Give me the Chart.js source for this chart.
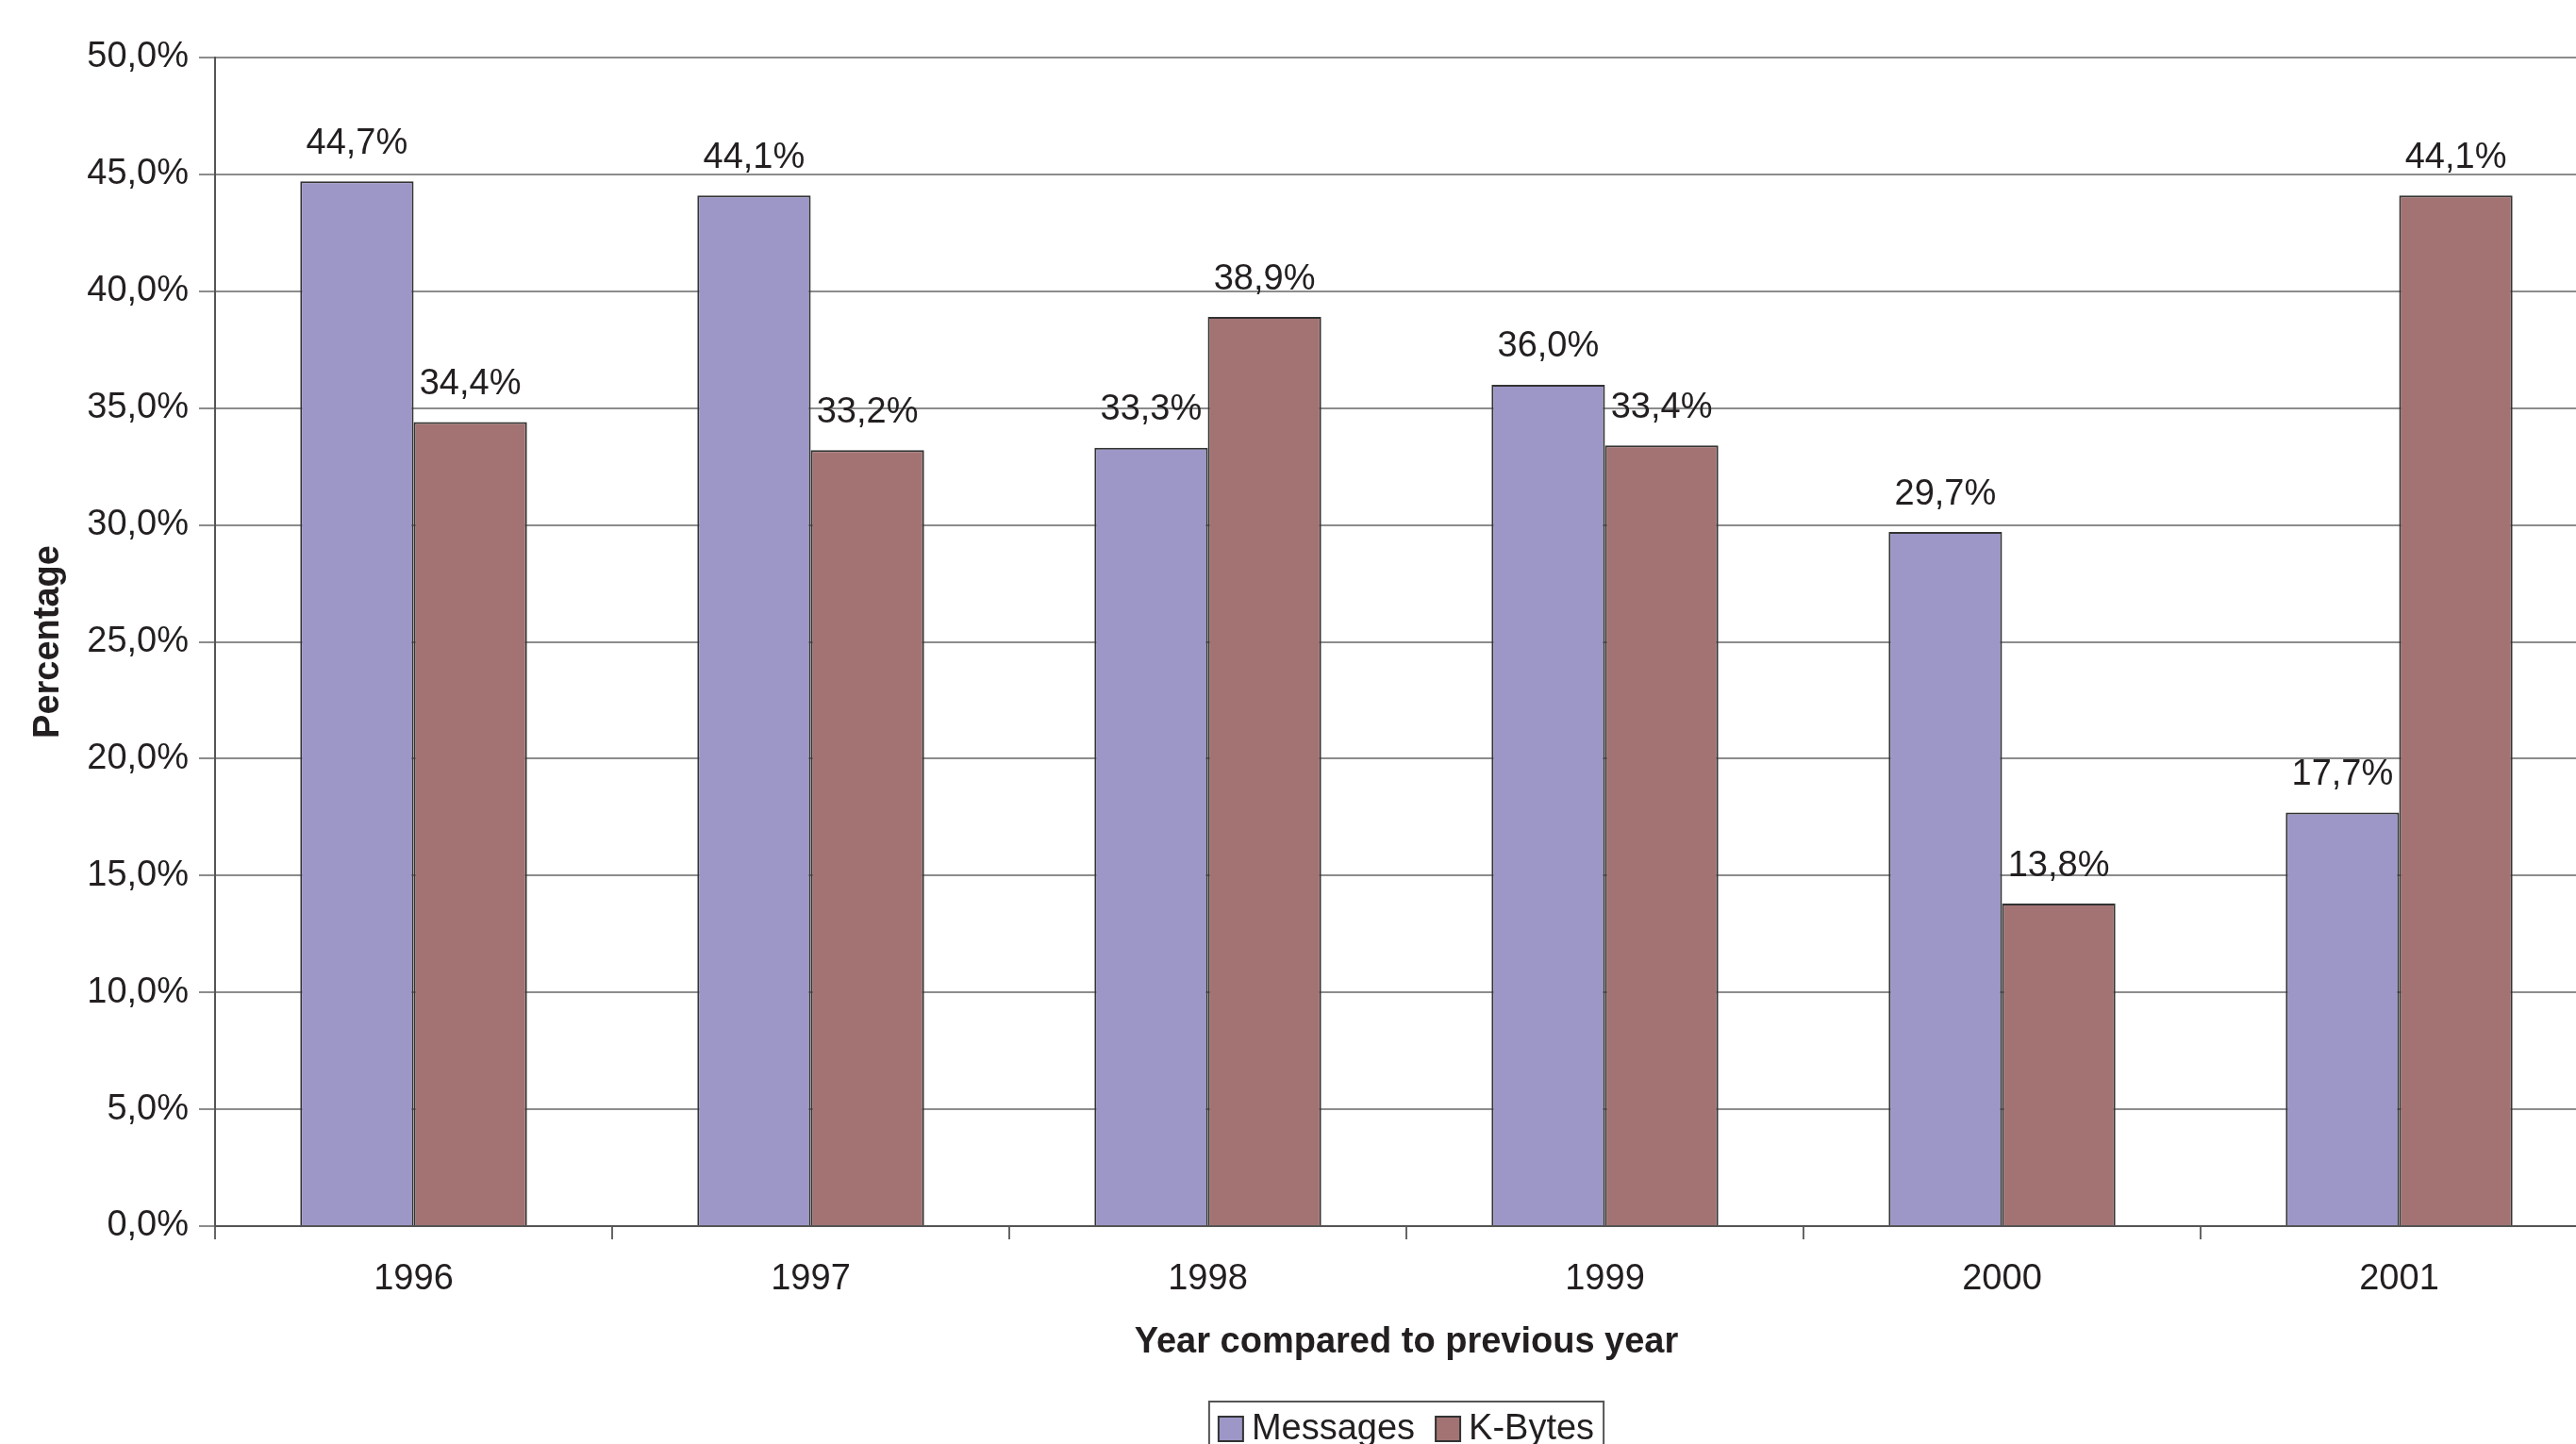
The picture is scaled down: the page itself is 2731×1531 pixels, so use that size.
<!DOCTYPE html>
<html>
<head>
<meta charset="utf-8">
<script src="https://cdn.jsdelivr.net/npm/chart.js@4/dist/chart.umd.min.js"></script>
<style>
	html, body { margin: 0; padding: 0; background: #ffffff; overflow: hidden; }
	canvas { display: block; }
</style>
</head>
<body>
<canvas id="barChartGrowth" width="2754" height="1560"></canvas>
<script>
	// yearly growth compared to the previous year, in percent
	var years = ['1996', '1997', '1998', '1999', '2000', '2001'];
	var messagesValues = [44.7, 44.1, 33.3, 36.0, 29.7, 17.7];
	var kbytesValues = [34.4, 33.2, 38.9, 33.4, 13.8, 44.1];
	var seriesLabels = ['Messages', 'K-Bytes'];
	var chartColors = ['#9d97c8', '#a37373'];

	var textColor = '#231f20';
	var fontFamily = '"Liberation Sans", Arial, Helvetica, sans-serif';

	/**
	 * Percentage with a decimal comma -> e.g. '44,7%'
	 */
	function formattedPercent(value) {
		return Number(value).toFixed(1).replace('.', ',') + '%';
	}

	// writes the value above every bar
	var valueLabels = {
		id: 'valueLabels',
		afterDatasetsDraw: function (chart) {
			var ctx = chart.ctx;
			ctx.save();
			ctx.font = '38px ' + fontFamily;
			ctx.fillStyle = textColor;
			ctx.textAlign = 'center';
			ctx.textBaseline = 'middle';
			chart.data.datasets.forEach(function (dataset, i) {
				chart.getDatasetMeta(i).data.forEach(function (bar, index) {
					ctx.fillText(formattedPercent(dataset.data[index]), bar.x, bar.y - 40);
				});
			});
			ctx.restore();
		}
	};

	// boxed legend centred under the plot area
	var boxedLegend = {
		id: 'boxedLegend',
		afterDraw: function (chart) {
			var ctx = chart.ctx;
			var area = chart.chartArea;
			var box = 26, gap = 9, itemGap = 22, pad = 10, height = 58;
			ctx.save();
			ctx.font = '38px ' + fontFamily;
			var widths = chart.data.datasets.map(function (d) {
				return box + gap + ctx.measureText(d.label).width;
			});
			var total = pad * 2 + itemGap * (widths.length - 1);
			widths.forEach(function (w) { total += w; });
			var left = (area.left + area.right) / 2 - total / 2;
			var top = area.bottom + 186;

			ctx.fillStyle = '#ffffff';
			ctx.fillRect(left, top, total, height);
			ctx.strokeStyle = '#555555';
			ctx.lineWidth = 2;
			ctx.strokeRect(left, top, total, height);

			var x = left + pad;
			var midY = top + height / 2;
			chart.data.datasets.forEach(function (d, i) {
				ctx.fillStyle = d.backgroundColor;
				ctx.fillRect(x, midY - box / 2, box, box);
				ctx.strokeStyle = '#333333';
				ctx.strokeRect(x, midY - box / 2, box, box);
				ctx.fillStyle = textColor;
				ctx.textAlign = 'left';
				ctx.textBaseline = 'middle';
				ctx.fillText(d.label, x + box + gap, midY + 1);
				x += widths[i] + itemGap;
			});
			ctx.restore();
		}
	};

	var barChartData = {
		labels: years,
		datasets: [{
			label: seriesLabels[0],
			data: messagesValues,
			backgroundColor: chartColors[0],
			borderColor: '#333333',
			borderWidth: 2,
		}, {
			label: seriesLabels[1],
			data: kbytesValues,
			backgroundColor: chartColors[1],
			borderColor: '#333333',
			borderWidth: 2,
		}],
	};

	var chartOptions = {
		responsive: false,
		animation: false,
		devicePixelRatio: 1,
		categoryPercentage: 0.571,
		barPercentage: 1.0,
		layout: {
			padding: { top: 61, bottom: 114, left: 0, right: 0 }
		},
		plugins: {
			legend: { display: false },
			tooltip: { enabled: false }
		},
		scales: {
			x: {
				afterFit: function (scale) { scale.height = 146; },
				grid: {
					offset: true,
					drawOnChartArea: false,
					drawTicks: true,
					tickLength: 14,
					color: '#666666',
					lineWidth: 2
				},
				border: { display: true, color: '#555555', width: 2 },
				ticks: {
					padding: 20,
					color: textColor,
					font: { size: 38, family: fontFamily }
				},
				title: {
					display: true,
					text: 'Year compared to previous year',
					color: textColor,
					padding: { top: 0, bottom: 0 },
					font: { size: 38, weight: 'bold', family: fontFamily }
				}
			},
			y: {
				min: 0,
				max: 50,
				afterFit: function (scale) { scale.width = 228; },
				grid: {
					color: '#8c8c8c',
					lineWidth: 2,
					drawTicks: true,
					tickLength: 17
				},
				border: { display: true, color: '#555555', width: 2 },
				ticks: {
					stepSize: 5,
					padding: 11,
					color: textColor,
					font: { size: 38, family: fontFamily },
					callback: function (value) { return formattedPercent(value); }
				},
				title: {
					display: true,
					text: 'Percentage',
					color: textColor,
					padding: { top: 29, bottom: 0 },
					font: { size: 38, weight: 'bold', family: fontFamily }
				}
			}
		}
	};

	var ctx = document.getElementById('barChartGrowth').getContext('2d');
	var barChartGrowth = new Chart(ctx, {
		type: 'bar',
		data: barChartData,
		options: chartOptions,
		plugins: [valueLabels, boxedLegend],
	});
</script>
</body>
</html>
